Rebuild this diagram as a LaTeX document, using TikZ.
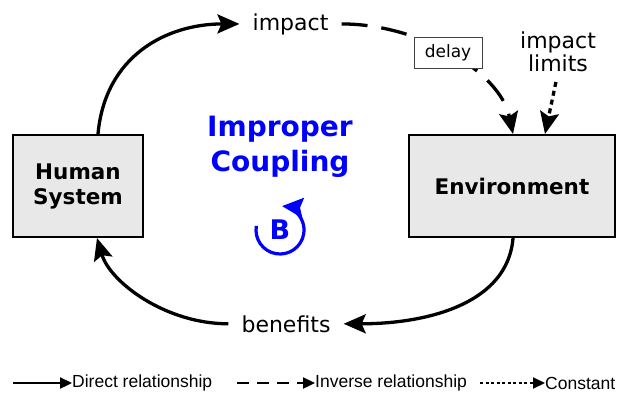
\documentclass[tikz,border=0pt]{standalone}
\usepackage{fontspec}
\setmainfont{DejaVu Sans}
\newfontfamily\legendfont{Liberation Sans}
\usetikzlibrary{arrows.meta,positioning}

\begin{document}
\begin{tikzpicture}[x=1pt,y=1pt,
		sysbox/.style={draw,line width=2pt,fill=black!9,inner sep=0pt,align=center,font=\fontsize{21.5}{25}\selectfont\bfseries},
		var/.style={inner xsep=13pt,inner ysep=0pt,align=center,font=\fontsize{22}{23}\selectfont},
		link/.style={line width=3.3pt,-{Stealth[length=22pt,width=19pt,inset=4pt]}},
		legend/.style={anchor=west,inner sep=0pt,font=\legendfont\fontsize{17.5}{19}\selectfont},
		legarrow/.style={line width=2.3pt,-{Triangle[length=12pt,width=11pt]}}]
	\useasboundingbox (0,0) rectangle (617,392);
	% stocks
	\node[sysbox,minimum width=130pt,minimum height=102pt] (human) at (78,206) {Human\\System};
	\node[sysbox,minimum width=206pt,minimum height=102pt] (env) at (512,206) {Environment};
	% flows
	\node[var,anchor=base] (impact) at (290.5,362) {impact};
	\node[var,anchor=base] (benefits) at (286,60) {benefits};
	\node[var,inner xsep=0pt] (limits) at (558,340) {impact\\limits};
	\draw[link] ([xshift=20pt]human.north) .. controls +(7,78) and +(-73,0) .. (impact.west);
	\draw[link,dash pattern=on 26pt off 14pt] (impact.east) .. controls +(77,0) and +(-13,63) .. ([xshift=1pt]env.north);
	\node[draw=black!75,line width=0.9pt,fill=white,minimum width=68pt,minimum height=31pt,inner sep=0pt,font=\fontsize{17}{18}\selectfont] (delay) at (448,339.5) {delay};
	\draw[link,dash pattern=on 5pt off 4pt,shorten <=10pt] (limits.south) -- ([xshift=33pt]env.north);
	\draw[link] ([xshift=1pt]env.south) .. controls +(-5,-65) and +(85,0) .. (benefits.east);
	\draw[link] (benefits.west) .. controls +(-63,0) and +(13,-44) .. ([xshift=19pt]human.south);
	% loop
	\node[blue,align=center,inner sep=0pt,font=\fontsize{28}{35}\selectfont\bfseries] (title) at (280,245) {Improper\\Coupling};
	\node[blue,inner sep=0pt,font=\fontsize{27}{28}\selectfont\bfseries] (loop) at (280,162) {B};
	\draw[blue,line width=3.2pt,-{Stealth[length=21pt,width=20pt,inset=3pt]}] ([shift={(170:24)}]loop.center) arc[start angle=170,end angle=445,radius=24];
	% legend
	\node[legend] (direct) at (72,9) {Direct relationship};
	\node[legend] (inverse) at (315,9) {Inverse relationship};
	\node[legend] (constant) at (545,9) {Constant};
	\draw[legarrow] ([xshift=-59pt]direct.west) -- (direct.west);
	\draw[legarrow,dash pattern=on 12pt off 8pt] ([xshift=-78pt]inverse.west) -- (inverse.west);
	\draw[legarrow,line width=2pt,dash pattern=on 3pt off 2.5pt] ([xshift=-65pt]constant.west) -- (constant.west);
\end{tikzpicture}
\end{document}
